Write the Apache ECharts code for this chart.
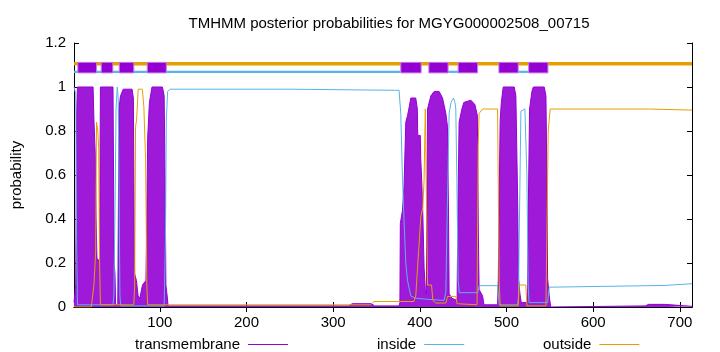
<!DOCTYPE html>
<html lang="en">
<head>
    <meta charset="UTF-8">
    <title>TMHMM posterior probabilities</title>
    <style>
        html, body { margin: 0; padding: 0; background: #fff; }
        #main { width: 720px; height: 352px; }
    </style>
    <script src="https://cdn.jsdelivr.net/npm/echarts@6/dist/echarts.min.js"></script>
</head>
<body>
<div id="main"></div>
<script type="text/javascript">
    // values: [residue, probability]
    var tmCurve = [
        [1,0.02],[3,0.1],[4,0.88],[5,1.0],[23,1.0],[24,0.85],[25.5,0.7],[26.5,0.4],[27.5,0.22],[30.5,0.21],[31.5,1.0],
        [46,1.0],[46.8,0.5],[47.3,0.2],[48.3,0.15],[49,0.01],[51.5,0.01],[52.3,0.5],[52.8,0.9],[54.7,0.96],[57.8,0.99],
        [68,0.99],[69.5,0.95],[70.5,0.3],[71,0.15],[73,0.12],[75,0.05],[77,0.04],[80,0.1],[84,0.12],[85,0.4],[86,0.77],
        [88,0.93],[91,1.0],[103,1.0],[105,0.96],[106.3,0.5],[107,0.1],[108.5,0.05],[109.5,0.005],[318,0.005],[322,0.015],
        [344,0.015],[348,0.005],[376,0.005],[377,0.02],[377.5,0.38],[380,0.44],[381.8,0.55],[383.8,0.84],[385.8,0.87],
        [387.3,0.9],[389.6,0.95],[395.3,0.95],[397.1,0.9],[397.6,0.78],[400.5,0.78],[401.1,0.67],[402.3,0.56],[403.4,0.43],
        [404.9,0.18],[406.3,0.08],[407.5,0.06],[408.2,0.5],[408.9,0.9],[412.7,0.96],[416.5,0.98],[422.2,0.98],[426.2,0.95],
        [430,0.88],[431.9,0.82],[433.1,0.42],[433.8,0.06],[437,0.04],[443,0.03],[443.8,0.4],[445.3,0.84],[448.5,0.9],
        [450.8,0.93],[458.9,0.94],[463.5,0.92],[466.4,0.87],[467.5,0.34],[468.4,0.08],[472.4,0.05],[474,0.01],[489.7,0.01],
        [490.5,0.12],[491.5,0.5],[492.7,0.85],[494,0.93],[496.2,1.0],[508.9,1.0],[510.8,0.96],[512.8,0.5],[513.9,0.13],
        [515.5,0.06],[517,0.02],[524.3,0.02],[525,0.4],[526.6,0.9],[529.3,0.98],[531,1.0],[543.5,1.0],[545.5,0.96],
        [546.6,0.58],[547.4,0.13],[549.3,0.05],[551,0.0],[660,0.005],[664,0.012],[682,0.012],[684,0.003],[714,0.003]
    ];
    var insideCurve = [
        [1,1.0],[3,0.97],[4,0.3],[5,0.01],[46,0.01],[47,0.05],[48.5,0.5],[49.5,0.9],[50.9,1.0],[52,0.95],[52.8,0.6],
        [54,0.05],[55,0.005],[105,0.005],[106.5,0.3],[107.5,0.85],[109,0.98],[112,0.99],[250,0.99],[372,0.985],[376,0.985],
        [378,0.88],[380,0.58],[381.5,0.42],[383.8,0.2],[385.8,0.12],[389.6,0.05],[395,0.04],[408.8,0.035],[428,0.03],
        [430,0.07],[431,0.3],[433.8,0.88],[436,0.93],[438.9,0.95],[440.5,0.93],[441.5,0.9],[442.7,0.58],[444.2,0.12],
        [445.5,0.065],[466.6,0.065],[468.5,0.097],[489.7,0.097],[491.5,0.01],[512.8,0.01],[513.9,0.05],[514.6,0.3],
        [516.6,0.89],[521.2,0.9],[523.5,0.6],[525,0.1],[526,0.02],[547.4,0.02],[549.3,0.09],[550.4,0.098],[682.9,0.098],
        [683.5,0.106],[714,0.106]
    ];
    var outsideCurve = [
        [1,0.0],[21,0.0],[24,0.1],[26,0.25],[27,0.84],[28.5,0.8],[29.5,0.72],[30.5,0.2],[31.5,0.01],[70,0.01],[71,0.1],
        [72,0.82],[73.2,0.85],[75.1,0.99],[79.8,0.99],[81.6,0.91],[83.6,0.67],[85,0.1],[86,0.01],[343,0.01],[347,0.025],
        [393,0.025],[395.3,0.05],[398.7,0.26],[401.1,0.41],[403.4,0.45],[404.9,0.58],[406.3,0.9],[408,0.9],[408.9,0.1],
        [413.5,0.1],[415,0.03],[418.4,0.018],[430,0.018],[431.9,0.048],[441.5,0.048],[443,0.015],[466,0.01],[467.3,0.73],
        [468.4,0.88],[472.4,0.9],[489.7,0.9],[491.5,0.12],[492.7,0.005],[513.5,0.005],[514.6,0.1],[522.3,0.1],
        [523.5,0.005],[545.5,0.005],[548.1,0.8],[550.4,0.9],[663.6,0.9],[664.5,0.895],[714,0.895]
    ];
    // predicted topology drawn above the curves: [start, end]
    var tmBoxes = [[5.4,27],[32.4,45.8],[53.2,70],[85.5,107.5],[378,401.5],[410.4,432.6],[444.2,466.6],[491.2,513.5],[525.5,547.8]];
    var insideBars = [[1,377.2],[432.6,444.2],[513.9,525.5]];
    var outsideBars = [[1,714]];
    var xTicks = [100,200,300,400,500,600,700];
    var seqLen = 714;

    var purple = '#9400d3', blue = '#56b4e9', orange = '#e69f00';
    var font = 'Liberation Sans';
    var fs = 15;

    function band(y0, y1, fill, stroke) {
        return function (params, api) {
            var p0 = api.coord([api.value(0), y1]);
            var p1 = api.coord([api.value(1), y0]);
            return {
                type: 'rect',
                shape: {x: p0[0], y: p0[1], width: p1[0] - p0[0], height: p1[1] - p0[1]},
                style: {fill: fill, stroke: stroke || null, lineWidth: stroke ? 1 : 0}
            };
        };
    }

    var myChart = echarts.init(document.getElementById('main'));
    var option = {
        animation: false,
        title: {
            text: 'TMHMM posterior probabilities for MGYG000002508_00715',
            left: 384, top: 11, textAlign: 'center',
            textStyle: {fontFamily: font, fontSize: fs, fontWeight: 'normal', color: '#000'}
        },
        legend: [
            {data: ['transmembrane'], left: 130, top: 332},
            {data: ['inside'], left: 372, top: 332},
            {data: ['outside'], left: 538, top: 332}
        ].map(function (l) {
            l.align = 'right';
            l.icon = 'rect';
            l.itemWidth = 40;
            l.itemHeight = 1;
            l.textStyle = {fontFamily: font, fontSize: fs, color: '#000', padding: [0, 3, 0, 0]};
            return l;
        }),
        grid: {left: 74, right: 28, top: 43, bottom: 45},
        xAxis: [{
            type: 'value', min: 1, max: seqLen,
            axisLine: {show: true, lineStyle: {color: '#000'}},
            axisTick: {inside: true, length: 5, customValues: xTicks, lineStyle: {color: '#000'}},
            axisLabel: {customValues: xTicks, margin: 8, color: '#000', fontFamily: font, fontSize: fs},
            splitLine: {show: false}
        }, {
            type: 'value', min: 1, max: seqLen, position: 'top',
            axisLine: {show: true, lineStyle: {color: '#000'}},
            axisTick: {inside: true, length: 5, customValues: xTicks, lineStyle: {color: '#000'}},
            axisLabel: {show: false},
            splitLine: {show: false}
        }],
        yAxis: [{
            type: 'value', min: 0, max: 1.2, interval: 0.2,
            name: 'probability', nameLocation: 'middle', nameGap: 50,
            nameTextStyle: {fontFamily: font, fontSize: fs, color: '#000'},
            axisLine: {show: true, lineStyle: {color: '#000'}},
            axisTick: {inside: true, length: 5, lineStyle: {color: '#000'}},
            axisLabel: {margin: 8, color: '#000', fontFamily: font, fontSize: fs},
            splitLine: {show: false}
        }, {
            type: 'value', min: 0, max: 1.2, interval: 0.2, position: 'right',
            axisLine: {show: true, lineStyle: {color: '#000'}},
            axisTick: {inside: true, length: 5, lineStyle: {color: '#000'}},
            axisLabel: {show: false},
            splitLine: {show: false}
        }],
        series: [{
            name: 'transmembrane', type: 'line', data: tmCurve, symbol: 'none',
            color: purple,
            lineStyle: {color: purple, width: 1},
            areaStyle: {color: '#9e1ad8', opacity: 1, origin: 'start'},
            z: 2
        }, {
            name: 'inside', type: 'line', data: insideCurve, symbol: 'none',
            color: blue, lineStyle: {color: blue, width: 1}, z: 3
        }, {
            name: 'outside', type: 'line', data: outsideCurve, symbol: 'none',
            color: orange, lineStyle: {color: orange, width: 1}, z: 3
        }, {
            name: 'outsideTop', type: 'custom', data: outsideBars, encode: {x: [0, 1]},
            renderItem: band(1.098, 1.114, orange), z: 4
        }, {
            name: 'insideTop', type: 'custom', data: insideBars, encode: {x: [0, 1]},
            renderItem: band(1.064, 1.074, blue), z: 4
        }, {
            name: 'tmTop', type: 'custom', data: tmBoxes, encode: {x: [0, 1]},
            renderItem: band(1.064, 1.112, purple, '#c27ee6'), z: 5
        }]
    };
    myChart.setOption(option);
</script>
</body>
</html>
